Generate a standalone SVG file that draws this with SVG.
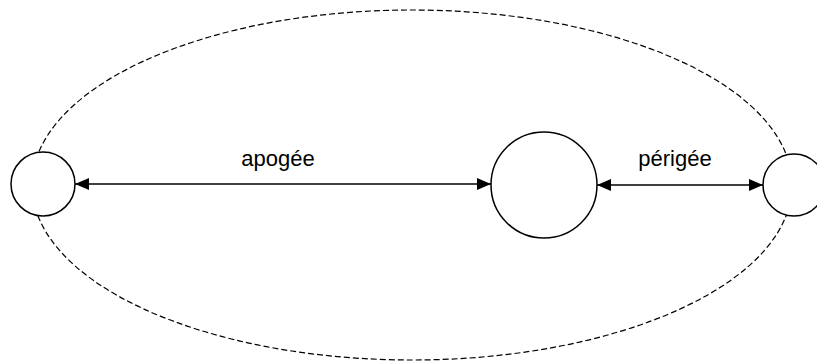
<svg xmlns="http://www.w3.org/2000/svg" width="817" height="362" viewBox="0 0 817 362">
  <style>
    .orbit { fill: none; stroke: #000; stroke-width: 1.2; stroke-dasharray: 6 3; }
    .body { fill: #fff; stroke: #000; stroke-width: 1.5; }
    .link { stroke: #000; stroke-width: 1.5; fill: none; }
    .label { font-family: "Liberation Sans", Arial, sans-serif; font-size: 22px; fill: #000; text-anchor: middle; }
  </style>
  <defs>
    <marker id="arrow" viewBox="0 0 14 14" refX="14" refY="7" markerWidth="14" markerHeight="14" markerUnits="userSpaceOnUse" orient="auto-start-reverse">
      <path d="M0,1 L14,7 L0,13 Z" fill="#000"/>
    </marker>
  </defs>
  <rect width="817" height="362" fill="#fff"/>
  <g id="orbit">
    <ellipse class="orbit" cx="412" cy="185" rx="380" ry="175"/>
  </g>
  <g id="connectors">
    <line class="link" x1="75" y1="184" x2="491" y2="184" marker-start="url(#arrow)" marker-end="url(#arrow)"/>
    <line class="link" x1="597" y1="185" x2="763" y2="185" marker-start="url(#arrow)" marker-end="url(#arrow)"/>
  </g>
  <g id="apogee-body">
    <circle class="body" cx="43" cy="184" r="32"/>
  </g>
  <g id="central-body">
    <circle class="body" cx="544" cy="185" r="53"/>
  </g>
  <g id="perigee-body">
    <circle class="body" cx="794" cy="185" r="31"/>
  </g>
  <g id="labels">
    <text class="label" x="278" y="166">apogée</text>
    <text class="label" x="675" y="166">périgée</text>
  </g>
</svg>
